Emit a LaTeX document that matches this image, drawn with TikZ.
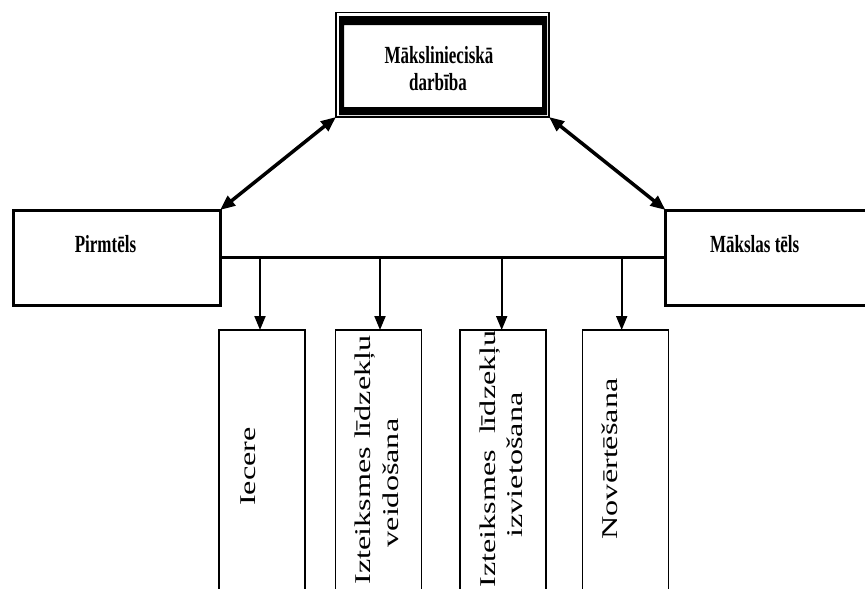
\documentclass[tikz,border=0pt]{standalone}
\usepackage{fontspec}
\setmainfont{Liberation Serif}
\usetikzlibrary{arrows.meta}
\begin{document}
\begin{tikzpicture}[x=1pt,y=-1pt,
  frame/.style={draw,rectangle,outer sep=0pt,inner sep=0pt},
  sidebox/.style={frame,line width=3pt,minimum height=95pt},
  stagebox/.style={frame,line width=1.5pt,minimum width=86pt,minimum height=290pt},
  boldlbl/.style={inner sep=0pt,anchor=base,font=\fontsize{17}{20}\selectfont\bfseries},
  vlbl/.style={inner sep=0pt,anchor=base,rotate=90,font=\fontsize{22.5}{27}\selectfont},
  link/.style={line width=3.5pt,{Triangle[length=15pt,width=12pt]}-{Triangle[length=15pt,width=12pt]}},
  drop/.style={line width=2pt,-{Triangle[length=14pt,width=11pt]}},
  bar/.style={line width=2.5pt}]
\useasboundingbox (0,0) rectangle (865,589);
\clip (0,0) rectangle (865,589);

% central activity box: thin outer frame with a heavy inner band
\node[frame,line width=1.5pt,minimum width=213pt,minimum height=104.5pt] (art) at (442.5,64.75) {};
\fill[even odd rule] (339,16) rectangle (547,115) (344,25) rectangle (542,107);
\node[boldlbl] (artA) at (439,63) {\scalebox{1}[1.45]{Mākslinieciskā}};
\node[boldlbl] (artB) at (438,90) {\scalebox{1}[1.45]{darbība}};

% side boxes
\node[sidebox,minimum width=206.7pt] (pirm) at (116.7,257.5) {};
\node[boldlbl] (pirmT) at (105.5,252) {\scalebox{1}[1.45]{Pirmtēls}};
\node[sidebox,minimum width=239.5pt] (maks) at (785.25,257.5) {};
\node[boldlbl] (maksT) at (754.7,252) {\scalebox{1}[1.45]{Mākslas tēls}};

% links between the activity and the two images
\draw[link] (art.south west) -- (pirm.north east);
\draw[link] (art.south east) -- (maks.north west);

% horizontal bar joining the side boxes
\draw[bar] (pirm.east) -- (maks.west);

% stage boxes
\node[stagebox] (st1) at (262,475) {};
\node[stagebox] (st2) at (378.7,475) {};
\node[stagebox] (st3) at (503,475) {};
\node[stagebox] (st4) at (625.3,475) {};

% drop points on the bar
\coordinate (d1) at (260,257.5);
\coordinate (d2) at (380,257.5);
\coordinate (d3) at (501.7,257.5);
\coordinate (d4) at (621.7,257.5);
\draw[drop] (d1) -- (d1 |- st1.north);
\draw[drop] (d2) -- (d2 |- st2.north);
\draw[drop] (d3) -- (d3 |- st3.north);
\draw[drop] (d4) -- (d4 |- st4.north);

% stage labels, reading bottom to top
\node[vlbl] (t1) at (255,466.5) {\scalebox{1.43}[1]{Iecere}};
\node[vlbl] (t2a) at (370,460) {\scalebox{1.43}[1]{Izteiksmes līdzekļu}};
\node[vlbl] (t2b) at (398,483) {\scalebox{1.43}[1]{veidošana}};
\node[vlbl] (t3a) at (495,459) {\scalebox{1.43}[1]{Izteiksmes\ \ līdzekļu}};
\node[vlbl] (t3b) at (522,465) {\scalebox{1.43}[1]{izvietošana}};
\node[vlbl] (t4) at (617,459) {\scalebox{1.43}[1]{Novērtēšana}};
\end{tikzpicture}
\end{document}
